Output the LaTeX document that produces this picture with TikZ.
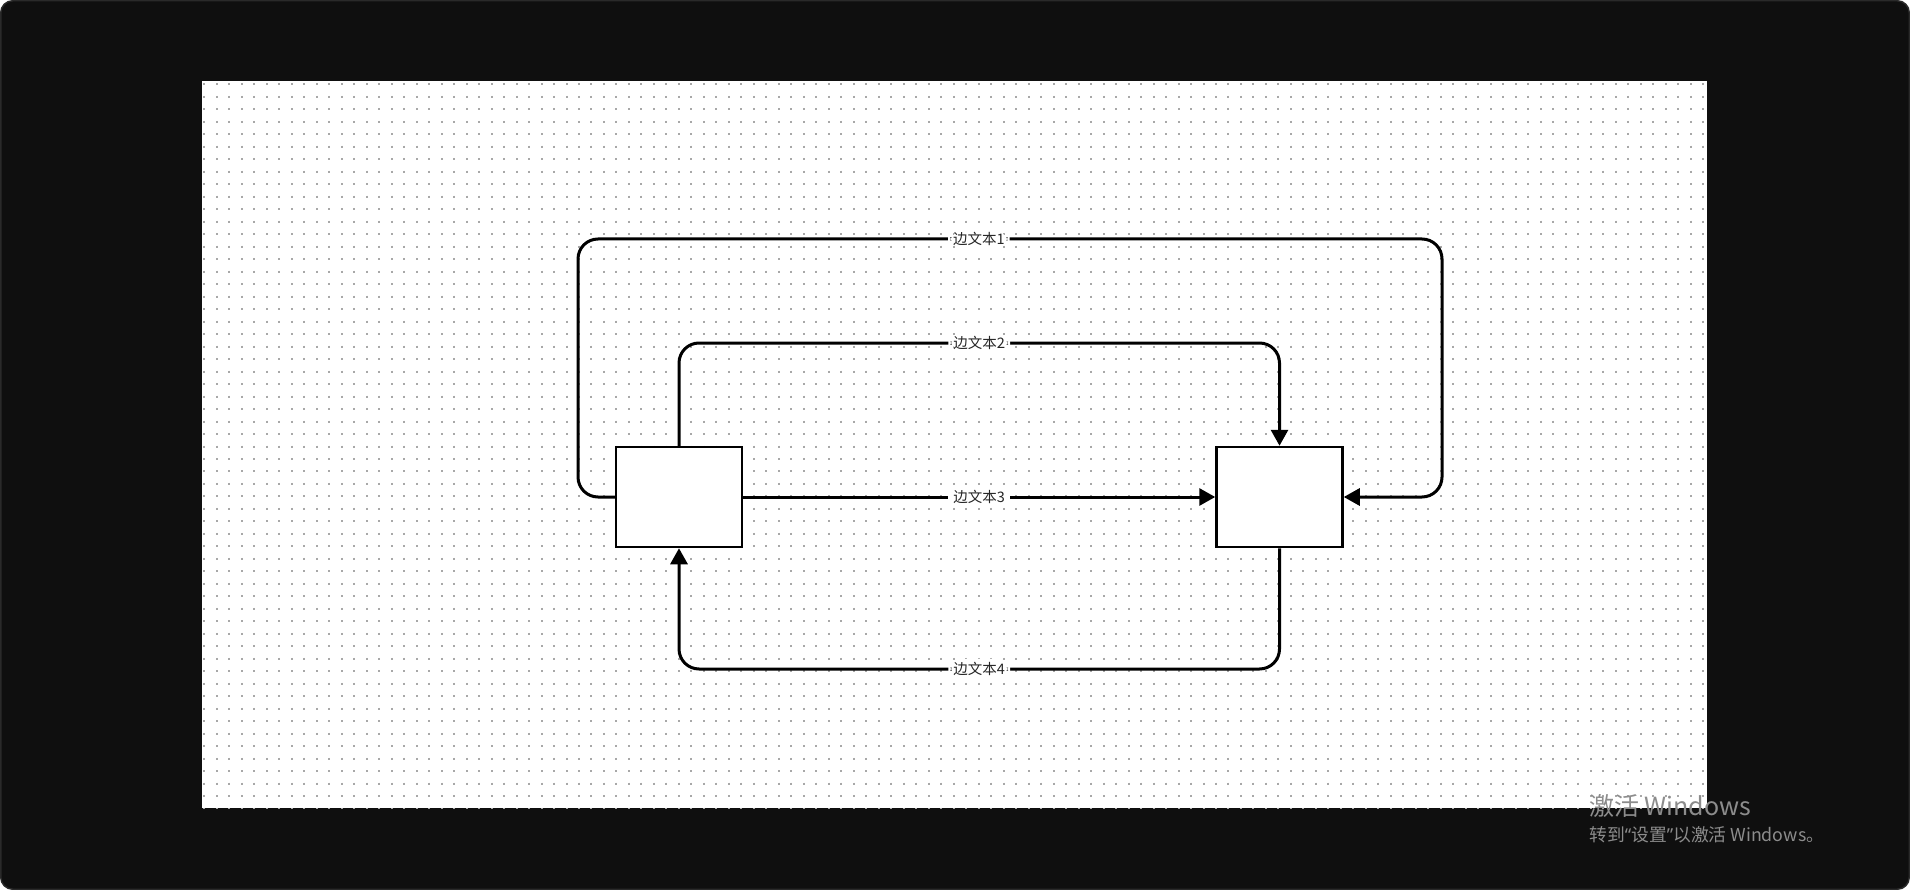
\documentclass[tikz,border=0pt]{standalone}
\usepackage{fontspec}
\usepackage{xcolor}
\usepackage{tikz}
\usetikzlibrary{arrows.meta,positioning,calc}
\newfontfamily\cjk{Noto Sans CJK SC}
\newfontfamily\latinsans{Noto Sans}
\definecolor{frameblack}{HTML}{0F0F0F}
\definecolor{frameedge}{HTML}{2A2A2A}
\definecolor{griddot}{HTML}{A8A8A8}
\definecolor{wmgray}{HTML}{8C8C8C}

\begin{document}
\begin{tikzpicture}[x=1pt,y=-1pt,
    box/.style={draw=black, fill=white, line width=2.5pt, minimum width=126pt, minimum height=100pt, inner sep=0pt},
    edge/.style={line width=3pt, rounded corners=20pt},
    tip/.style={-{Triangle[length=16pt,width=17pt]}},
    lbl/.style={fill=white, inner xsep=5pt, inner ysep=3.5pt, text=black!85, font=\cjk\fontsize{14.5}{15}\selectfont},
    wmtext/.style={anchor=west, text=wmgray, inner sep=0pt}]
\useasboundingbox (0,0) rectangle (1910,890);
% Frame and canvas
\fill[white] (0,0) rectangle (1910,890);
\draw[fill=frameblack, draw=frameedge, line width=1.5pt, rounded corners=12pt] (0.75,0.75) rectangle (1909.25,889.25);
\fill[white] (202,81) rectangle (1707,808);

% Dot grid
\foreach \i in {0,...,120}
    \draw[griddot, line width=2pt, dash pattern=on 2pt off 10.49pt] (204.3+12.49*\i,83.3) -- (204.3+12.49*\i,808);

% Boxes
\node[box] (src) at (679,497) {};
\node[box, right=472pt of src] (dst) {};

\coordinate (loopL) at (578,239);
\coordinate (loopR) at (1442,239);
\coordinate (lvl2) at (0,343);
\coordinate (lvl4) at (0,669);

% Edges
\draw[edge, tip] (src.west) -| (loopL) -- node[lbl, pos=0.464] {边文本1} (loopR) |- (dst.east);
\draw[edge, tip] (src.north) -- (src.north |- lvl2) -- node[lbl] {边文本2} (dst.north |- lvl2) -- (dst.north);
\draw[edge, tip, rounded corners=0pt] (src.east) -- node[lbl] {边文本3} (dst.west);
\draw[edge, tip] (dst.south) -- (dst.south |- lvl4) -- node[lbl] {边文本4} (src.south |- lvl4) -- (src.south);

% Watermark
\node[wmtext, font=\cjk\fontsize{25}{26}\selectfont] (wm1) at (1589,806) {激活 Windows};
\node[wmtext, font=\cjk\fontsize{17.8}{19}\selectfont] (wm2) at (1589,835) {转到{\latinsans“}设置{\latinsans”}以激活 Windows。};
\end{tikzpicture}
\end{document}
